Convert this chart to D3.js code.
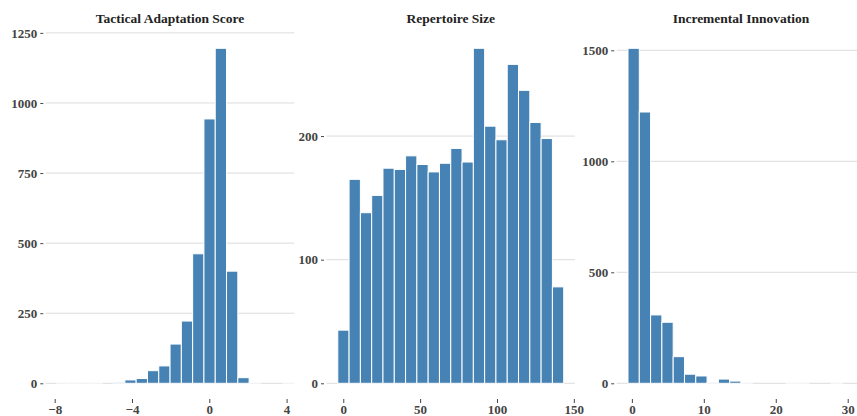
<!DOCTYPE html>
<html>
<head>
<meta charset="utf-8">
<script src="https://cdn.jsdelivr.net/npm/d3@7"></script>
<style>
  body { margin: 0; background: #fff; }
  svg { display: block; }
  .title { font: bold 13.5px "Liberation Serif", "Times New Roman", serif; fill: #222; }
  .axis text { font: bold 13px "Liberation Serif", "Times New Roman", serif; fill: #444; }
  .axis line { stroke: #444; }
  .axis path { display: none; }
  .grid line { stroke: #dcdcdc; stroke-width: 1; }
</style>
</head>
<body>
<svg id="chart" width="857" height="416"></svg>
<script>
// Panel titles
const titles = ["Tactical Adaptation Score", "Repertoire Size", "Incremental Innovation"];

// Bin layout per panel (first bin start, bin width), 22 bins each
const binStarts = [-8.46, -10.9, -2.11];
const binWidths = [0.5845, 7.348, 1.570];

// Counts per bin
const tacticalCounts = [0, 1, 1, 1, 1, 0, 4, 12, 17, 45, 62, 140, 222, 462, 943, 1195, 400, 20, 1, 0, 0, 1];
const repertoireCounts = [0, 43, 165, 138, 152, 174, 173, 184, 177, 171, 178, 190, 179, 271, 208, 197, 258, 237, 211, 198, 78, 0];
const innovationCounts = [0, 1509, 1222, 308, 275, 120, 41, 33, 3, 19, 10, 1, 0, 0, 0, 1, 1, 0, 0, 1, 0, 0];
const allCounts = [tacticalCounts, repertoireCounts, innovationCounts];

// Tick labels
const xTicks = [[-8, -4, 0, 4], [0, 50, 100, 150], [0, 10, 20, 30]];
const yTicks = [[0, 250, 500, 750, 1000, 1250], [0, 100, 200], [0, 500, 1000, 1500]];

const svg = d3.select("#chart");
const plotLefts = [45.8, 326.5, 616.7];
const plotW = 248.5;
const yBottom = 383.3, yTop = 48.3;
const xAxisY = 399;
const fmt = d3.format("d");

allCounts.forEach((counts, p) => {
  const bins = counts.map((c, i) => ({
    x0: binStarts[p] + i * binWidths[p],
    x1: binStarts[p] + (i + 1) * binWidths[p],
    count: c
  }));
  const left = plotLefts[p];

  const x = d3.scaleLinear()
    .domain([bins[0].x0, bins[bins.length - 1].x1])
    .range([left, left + plotW]);

  const y = d3.scaleLinear()
    .domain([0, d3.max(counts)])
    .range([yBottom, yTop]);

  const g = svg.append("g");

  // gridlines
  g.append("g")
    .attr("class", "grid")
    .selectAll("line")
    .data(yTicks[p])
    .enter().append("line")
      .attr("x1", left)
      .attr("x2", left + plotW)
      .attr("y1", d => y(d))
      .attr("y2", d => y(d));

  // bars
  g.selectAll(".bar")
    .data(bins)
    .enter().append("rect")
      .attr("class", "bar")
      .attr("x", d => x(d.x0))
      .attr("y", d => y(d.count))
      .attr("width", d => x(d.x1) - x(d.x0))
      .attr("height", d => yBottom - y(d.count))
      .attr("fill", "steelblue")
      .attr("stroke", "#fff")
      .attr("stroke-width", 1);

  // y axis
  g.append("g")
    .attr("class", "axis")
    .attr("transform", "translate(" + (left - 2.5) + ",0)")
    .call(d3.axisLeft(y).tickValues(yTicks[p]).tickFormat(fmt).tickSize(3).tickPadding(3));

  // x axis
  g.append("g")
    .attr("class", "axis")
    .attr("transform", "translate(0," + xAxisY + ")")
    .call(d3.axisBottom(x).tickValues(xTicks[p]).tickFormat(fmt).tickSize(4).tickPadding(2));

  // title
  g.append("text")
    .attr("class", "title")
    .attr("x", left + plotW / 2)
    .attr("y", 23)
    .attr("text-anchor", "middle")
    .text(titles[p]);
});
</script>
</body>
</html>
